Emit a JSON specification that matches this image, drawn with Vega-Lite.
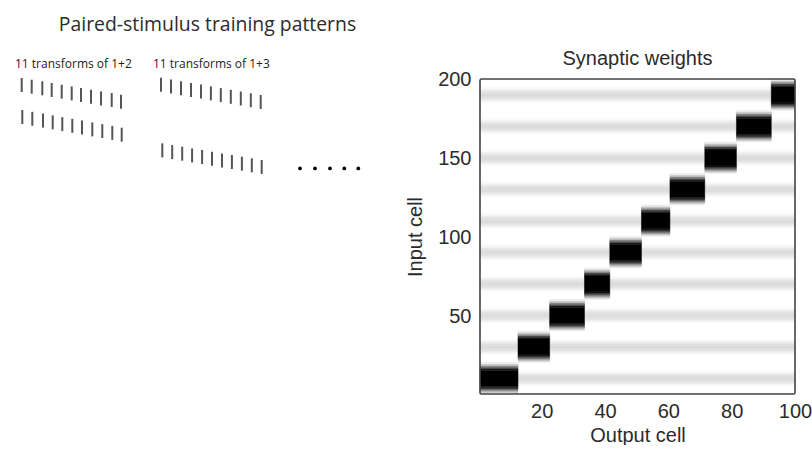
{
  "$schema": "https://vega.github.io/schema/vega-lite/v6.json",
  "background": "white",
  "padding": {"left": 0, "top": 14, "right": 0, "bottom": 0},
  "spacing": 20,
  "config": {
    "view": {"stroke": null},
    "axis": {"labelFont": "Liberation Sans", "titleFont": "Liberation Sans", "labelColor": "#2b2b2b", "titleColor": "#2b2b2b", "titleFontWeight": "normal"}
  },
  "datasets": {
    "ticks": [
      {"pair": "1+2", "stim": 1, "t": 0, "x": 21.7, "y": 6.0}, {"pair": "1+2", "stim": 1, "t": 1, "x": 31.7, "y": 7.7},
      {"pair": "1+2", "stim": 1, "t": 2, "x": 42.3, "y": 9.3}, {"pair": "1+2", "stim": 1, "t": 3, "x": 51.7, "y": 11.0},
      {"pair": "1+2", "stim": 1, "t": 4, "x": 61.7, "y": 12.7}, {"pair": "1+2", "stim": 1, "t": 5, "x": 71.7, "y": 14.4},
      {"pair": "1+2", "stim": 1, "t": 6, "x": 81.0, "y": 16.0}, {"pair": "1+2", "stim": 1, "t": 7, "x": 91.0, "y": 17.7},
      {"pair": "1+2", "stim": 1, "t": 8, "x": 101.0, "y": 19.4}, {"pair": "1+2", "stim": 1, "t": 9, "x": 111.7, "y": 21.0},
      {"pair": "1+2", "stim": 1, "t": 10, "x": 121.0, "y": 22.7},
      {"pair": "1+2", "stim": 2, "t": 0, "x": 22.3, "y": 38.0}, {"pair": "1+2", "stim": 2, "t": 1, "x": 32.3, "y": 39.8},
      {"pair": "1+2", "stim": 2, "t": 2, "x": 43.0, "y": 41.5}, {"pair": "1+2", "stim": 2, "t": 3, "x": 52.7, "y": 43.3},
      {"pair": "1+2", "stim": 2, "t": 4, "x": 62.3, "y": 45.1}, {"pair": "1+2", "stim": 2, "t": 5, "x": 72.3, "y": 46.8},
      {"pair": "1+2", "stim": 2, "t": 6, "x": 82.0, "y": 48.6}, {"pair": "1+2", "stim": 2, "t": 7, "x": 92.3, "y": 50.4},
      {"pair": "1+2", "stim": 2, "t": 8, "x": 102.3, "y": 52.1}, {"pair": "1+2", "stim": 2, "t": 9, "x": 112.3, "y": 53.9},
      {"pair": "1+2", "stim": 2, "t": 10, "x": 121.7, "y": 55.7},
      {"pair": "1+3", "stim": 1, "t": 0, "x": 161.0, "y": 5.7}, {"pair": "1+3", "stim": 1, "t": 1, "x": 171.0, "y": 7.4},
      {"pair": "1+3", "stim": 1, "t": 2, "x": 181.0, "y": 9.2}, {"pair": "1+3", "stim": 1, "t": 3, "x": 191.0, "y": 10.9},
      {"pair": "1+3", "stim": 1, "t": 4, "x": 201.0, "y": 12.6}, {"pair": "1+3", "stim": 1, "t": 5, "x": 210.9, "y": 14.4},
      {"pair": "1+3", "stim": 1, "t": 6, "x": 220.8, "y": 16.1}, {"pair": "1+3", "stim": 1, "t": 7, "x": 230.8, "y": 17.8},
      {"pair": "1+3", "stim": 1, "t": 8, "x": 240.8, "y": 19.5}, {"pair": "1+3", "stim": 1, "t": 9, "x": 250.8, "y": 21.3},
      {"pair": "1+3", "stim": 1, "t": 10, "x": 260.7, "y": 23.0},
      {"pair": "1+3", "stim": 3, "t": 0, "x": 162.3, "y": 71.4}, {"pair": "1+3", "stim": 3, "t": 1, "x": 172.2, "y": 73.1},
      {"pair": "1+3", "stim": 3, "t": 2, "x": 182.2, "y": 74.7}, {"pair": "1+3", "stim": 3, "t": 3, "x": 192.1, "y": 76.4},
      {"pair": "1+3", "stim": 3, "t": 4, "x": 202.1, "y": 78.0}, {"pair": "1+3", "stim": 3, "t": 5, "x": 212.0, "y": 79.7},
      {"pair": "1+3", "stim": 3, "t": 6, "x": 222.0, "y": 81.4}, {"pair": "1+3", "stim": 3, "t": 7, "x": 231.9, "y": 83.0},
      {"pair": "1+3", "stim": 3, "t": 8, "x": 241.9, "y": 84.7}, {"pair": "1+3", "stim": 3, "t": 9, "x": 251.8, "y": 86.3},
      {"pair": "1+3", "stim": 3, "t": 10, "x": 261.7, "y": 88.0}
    ],
    "dots": [
      {"x": 300.0, "y": 89.4}, {"x": 315.0, "y": 89.4}, {"x": 330.0, "y": 89.4}, {"x": 344.3, "y": 89.4}, {"x": 358.3, "y": 89.4}
    ],
    "labels": [
      {"text": "11 transforms of 1+2", "x": 15, "y": -15.3},
      {"text": "11 transforms of 1+3", "x": 153, "y": -15.3}
    ],
    "heading": [
      {"text": "Paired-stimulus training patterns", "x": 207.5, "y": -54.3}
    ],
    "frame": [
      {"o0": 0.5, "o1": 100, "i0": 0.5, "i1": 200.5}
    ],
    "stripes": [
      {"i0": 5.5, "i1": 6.5, "w": 0.02}, {"i0": 6.5, "i1": 7.5, "w": 0.05}, {"i0": 7.5, "i1": 8.5, "w": 0.09}, {"i0": 8.5, "i1": 9.5, "w": 0.12}, {"i0": 9.5, "i1": 10.5, "w": 0.14},
      {"i0": 10.5, "i1": 11.5, "w": 0.14}, {"i0": 11.5, "i1": 12.5, "w": 0.12}, {"i0": 12.5, "i1": 13.5, "w": 0.09}, {"i0": 13.5, "i1": 14.5, "w": 0.05}, {"i0": 14.5, "i1": 15.5, "w": 0.02},
      {"i0": 25.5, "i1": 26.5, "w": 0.02}, {"i0": 26.5, "i1": 27.5, "w": 0.05}, {"i0": 27.5, "i1": 28.5, "w": 0.09}, {"i0": 28.5, "i1": 29.5, "w": 0.12}, {"i0": 29.5, "i1": 30.5, "w": 0.14},
      {"i0": 30.5, "i1": 31.5, "w": 0.14}, {"i0": 31.5, "i1": 32.5, "w": 0.12}, {"i0": 32.5, "i1": 33.5, "w": 0.09}, {"i0": 33.5, "i1": 34.5, "w": 0.05}, {"i0": 34.5, "i1": 35.5, "w": 0.02},
      {"i0": 45.5, "i1": 46.5, "w": 0.02}, {"i0": 46.5, "i1": 47.5, "w": 0.05}, {"i0": 47.5, "i1": 48.5, "w": 0.09}, {"i0": 48.5, "i1": 49.5, "w": 0.12}, {"i0": 49.5, "i1": 50.5, "w": 0.14},
      {"i0": 50.5, "i1": 51.5, "w": 0.14}, {"i0": 51.5, "i1": 52.5, "w": 0.12}, {"i0": 52.5, "i1": 53.5, "w": 0.09}, {"i0": 53.5, "i1": 54.5, "w": 0.05}, {"i0": 54.5, "i1": 55.5, "w": 0.02},
      {"i0": 65.5, "i1": 66.5, "w": 0.02}, {"i0": 66.5, "i1": 67.5, "w": 0.05}, {"i0": 67.5, "i1": 68.5, "w": 0.09}, {"i0": 68.5, "i1": 69.5, "w": 0.12}, {"i0": 69.5, "i1": 70.5, "w": 0.14},
      {"i0": 70.5, "i1": 71.5, "w": 0.14}, {"i0": 71.5, "i1": 72.5, "w": 0.12}, {"i0": 72.5, "i1": 73.5, "w": 0.09}, {"i0": 73.5, "i1": 74.5, "w": 0.05}, {"i0": 74.5, "i1": 75.5, "w": 0.02},
      {"i0": 85.5, "i1": 86.5, "w": 0.02}, {"i0": 86.5, "i1": 87.5, "w": 0.05}, {"i0": 87.5, "i1": 88.5, "w": 0.09}, {"i0": 88.5, "i1": 89.5, "w": 0.12}, {"i0": 89.5, "i1": 90.5, "w": 0.14},
      {"i0": 90.5, "i1": 91.5, "w": 0.14}, {"i0": 91.5, "i1": 92.5, "w": 0.12}, {"i0": 92.5, "i1": 93.5, "w": 0.09}, {"i0": 93.5, "i1": 94.5, "w": 0.05}, {"i0": 94.5, "i1": 95.5, "w": 0.02},
      {"i0": 105.5, "i1": 106.5, "w": 0.02}, {"i0": 106.5, "i1": 107.5, "w": 0.05}, {"i0": 107.5, "i1": 108.5, "w": 0.09}, {"i0": 108.5, "i1": 109.5, "w": 0.12}, {"i0": 109.5, "i1": 110.5, "w": 0.14},
      {"i0": 110.5, "i1": 111.5, "w": 0.14}, {"i0": 111.5, "i1": 112.5, "w": 0.12}, {"i0": 112.5, "i1": 113.5, "w": 0.09}, {"i0": 113.5, "i1": 114.5, "w": 0.05}, {"i0": 114.5, "i1": 115.5, "w": 0.02},
      {"i0": 125.5, "i1": 126.5, "w": 0.02}, {"i0": 126.5, "i1": 127.5, "w": 0.05}, {"i0": 127.5, "i1": 128.5, "w": 0.09}, {"i0": 128.5, "i1": 129.5, "w": 0.12}, {"i0": 129.5, "i1": 130.5, "w": 0.14},
      {"i0": 130.5, "i1": 131.5, "w": 0.14}, {"i0": 131.5, "i1": 132.5, "w": 0.12}, {"i0": 132.5, "i1": 133.5, "w": 0.09}, {"i0": 133.5, "i1": 134.5, "w": 0.05}, {"i0": 134.5, "i1": 135.5, "w": 0.02},
      {"i0": 145.5, "i1": 146.5, "w": 0.02}, {"i0": 146.5, "i1": 147.5, "w": 0.05}, {"i0": 147.5, "i1": 148.5, "w": 0.09}, {"i0": 148.5, "i1": 149.5, "w": 0.12}, {"i0": 149.5, "i1": 150.5, "w": 0.14},
      {"i0": 150.5, "i1": 151.5, "w": 0.14}, {"i0": 151.5, "i1": 152.5, "w": 0.12}, {"i0": 152.5, "i1": 153.5, "w": 0.09}, {"i0": 153.5, "i1": 154.5, "w": 0.05}, {"i0": 154.5, "i1": 155.5, "w": 0.02},
      {"i0": 165.5, "i1": 166.5, "w": 0.02}, {"i0": 166.5, "i1": 167.5, "w": 0.05}, {"i0": 167.5, "i1": 168.5, "w": 0.09}, {"i0": 168.5, "i1": 169.5, "w": 0.12}, {"i0": 169.5, "i1": 170.5, "w": 0.14},
      {"i0": 170.5, "i1": 171.5, "w": 0.14}, {"i0": 171.5, "i1": 172.5, "w": 0.12}, {"i0": 172.5, "i1": 173.5, "w": 0.09}, {"i0": 173.5, "i1": 174.5, "w": 0.05}, {"i0": 174.5, "i1": 175.5, "w": 0.02},
      {"i0": 185.5, "i1": 186.5, "w": 0.02}, {"i0": 186.5, "i1": 187.5, "w": 0.05}, {"i0": 187.5, "i1": 188.5, "w": 0.09}, {"i0": 188.5, "i1": 189.5, "w": 0.12}, {"i0": 189.5, "i1": 190.5, "w": 0.14},
      {"i0": 190.5, "i1": 191.5, "w": 0.14}, {"i0": 191.5, "i1": 192.5, "w": 0.12}, {"i0": 192.5, "i1": 193.5, "w": 0.09}, {"i0": 193.5, "i1": 194.5, "w": 0.05}, {"i0": 194.5, "i1": 195.5, "w": 0.02}
    ],
    "blocks": [
      {"o0": 0.5, "o1": 12.5, "i0": 0.5, "i1": 1.5, "w": 0.08}, {"o0": 0.5, "o1": 12.5, "i0": 1.5, "i1": 2.5, "w": 0.25}, {"o0": 0.5, "o1": 12.5, "i0": 2.5, "i1": 3.5, "w": 0.5}, {"o0": 0.5, "o1": 12.5, "i0": 3.5, "i1": 4.5, "w": 0.75}, {"o0": 0.5, "o1": 12.5, "i0": 4.5, "i1": 5.5, "w": 0.92}, {"o0": 0.5, "o1": 12.5, "i0": 5.5, "i1": 15.5, "w": 1}, {"o0": 0.5, "o1": 12.5, "i0": 15.5, "i1": 16.5, "w": 0.92}, {"o0": 0.5, "o1": 12.5, "i0": 16.5, "i1": 17.5, "w": 0.75}, {"o0": 0.5, "o1": 12.5, "i0": 17.5, "i1": 18.5, "w": 0.5}, {"o0": 0.5, "o1": 12.5, "i0": 18.5, "i1": 19.5, "w": 0.25}, {"o0": 0.5, "o1": 12.5, "i0": 19.5, "i1": 20.5, "w": 0.08},
      {"o0": 12.5, "o1": 22.5, "i0": 20.5, "i1": 21.5, "w": 0.08}, {"o0": 12.5, "o1": 22.5, "i0": 21.5, "i1": 22.5, "w": 0.25}, {"o0": 12.5, "o1": 22.5, "i0": 22.5, "i1": 23.5, "w": 0.5}, {"o0": 12.5, "o1": 22.5, "i0": 23.5, "i1": 24.5, "w": 0.75}, {"o0": 12.5, "o1": 22.5, "i0": 24.5, "i1": 25.5, "w": 0.92}, {"o0": 12.5, "o1": 22.5, "i0": 25.5, "i1": 35.5, "w": 1}, {"o0": 12.5, "o1": 22.5, "i0": 35.5, "i1": 36.5, "w": 0.92}, {"o0": 12.5, "o1": 22.5, "i0": 36.5, "i1": 37.5, "w": 0.75}, {"o0": 12.5, "o1": 22.5, "i0": 37.5, "i1": 38.5, "w": 0.5}, {"o0": 12.5, "o1": 22.5, "i0": 38.5, "i1": 39.5, "w": 0.25}, {"o0": 12.5, "o1": 22.5, "i0": 39.5, "i1": 40.5, "w": 0.08},
      {"o0": 22.5, "o1": 33.5, "i0": 40.5, "i1": 41.5, "w": 0.08}, {"o0": 22.5, "o1": 33.5, "i0": 41.5, "i1": 42.5, "w": 0.25}, {"o0": 22.5, "o1": 33.5, "i0": 42.5, "i1": 43.5, "w": 0.5}, {"o0": 22.5, "o1": 33.5, "i0": 43.5, "i1": 44.5, "w": 0.75}, {"o0": 22.5, "o1": 33.5, "i0": 44.5, "i1": 45.5, "w": 0.92}, {"o0": 22.5, "o1": 33.5, "i0": 45.5, "i1": 55.5, "w": 1}, {"o0": 22.5, "o1": 33.5, "i0": 55.5, "i1": 56.5, "w": 0.92}, {"o0": 22.5, "o1": 33.5, "i0": 56.5, "i1": 57.5, "w": 0.75}, {"o0": 22.5, "o1": 33.5, "i0": 57.5, "i1": 58.5, "w": 0.5}, {"o0": 22.5, "o1": 33.5, "i0": 58.5, "i1": 59.5, "w": 0.25}, {"o0": 22.5, "o1": 33.5, "i0": 59.5, "i1": 60.5, "w": 0.08},
      {"o0": 33.5, "o1": 41.5, "i0": 60.5, "i1": 61.5, "w": 0.08}, {"o0": 33.5, "o1": 41.5, "i0": 61.5, "i1": 62.5, "w": 0.25}, {"o0": 33.5, "o1": 41.5, "i0": 62.5, "i1": 63.5, "w": 0.5}, {"o0": 33.5, "o1": 41.5, "i0": 63.5, "i1": 64.5, "w": 0.75}, {"o0": 33.5, "o1": 41.5, "i0": 64.5, "i1": 65.5, "w": 0.92}, {"o0": 33.5, "o1": 41.5, "i0": 65.5, "i1": 75.5, "w": 1}, {"o0": 33.5, "o1": 41.5, "i0": 75.5, "i1": 76.5, "w": 0.92}, {"o0": 33.5, "o1": 41.5, "i0": 76.5, "i1": 77.5, "w": 0.75}, {"o0": 33.5, "o1": 41.5, "i0": 77.5, "i1": 78.5, "w": 0.5}, {"o0": 33.5, "o1": 41.5, "i0": 78.5, "i1": 79.5, "w": 0.25}, {"o0": 33.5, "o1": 41.5, "i0": 79.5, "i1": 80.5, "w": 0.08},
      {"o0": 41.5, "o1": 51.5, "i0": 80.5, "i1": 81.5, "w": 0.08}, {"o0": 41.5, "o1": 51.5, "i0": 81.5, "i1": 82.5, "w": 0.25}, {"o0": 41.5, "o1": 51.5, "i0": 82.5, "i1": 83.5, "w": 0.5}, {"o0": 41.5, "o1": 51.5, "i0": 83.5, "i1": 84.5, "w": 0.75}, {"o0": 41.5, "o1": 51.5, "i0": 84.5, "i1": 85.5, "w": 0.92}, {"o0": 41.5, "o1": 51.5, "i0": 85.5, "i1": 95.5, "w": 1}, {"o0": 41.5, "o1": 51.5, "i0": 95.5, "i1": 96.5, "w": 0.92}, {"o0": 41.5, "o1": 51.5, "i0": 96.5, "i1": 97.5, "w": 0.75}, {"o0": 41.5, "o1": 51.5, "i0": 97.5, "i1": 98.5, "w": 0.5}, {"o0": 41.5, "o1": 51.5, "i0": 98.5, "i1": 99.5, "w": 0.25}, {"o0": 41.5, "o1": 51.5, "i0": 99.5, "i1": 100.5, "w": 0.08},
      {"o0": 51.5, "o1": 60.5, "i0": 100.5, "i1": 101.5, "w": 0.08}, {"o0": 51.5, "o1": 60.5, "i0": 101.5, "i1": 102.5, "w": 0.25}, {"o0": 51.5, "o1": 60.5, "i0": 102.5, "i1": 103.5, "w": 0.5}, {"o0": 51.5, "o1": 60.5, "i0": 103.5, "i1": 104.5, "w": 0.75}, {"o0": 51.5, "o1": 60.5, "i0": 104.5, "i1": 105.5, "w": 0.92}, {"o0": 51.5, "o1": 60.5, "i0": 105.5, "i1": 115.5, "w": 1}, {"o0": 51.5, "o1": 60.5, "i0": 115.5, "i1": 116.5, "w": 0.92}, {"o0": 51.5, "o1": 60.5, "i0": 116.5, "i1": 117.5, "w": 0.75}, {"o0": 51.5, "o1": 60.5, "i0": 117.5, "i1": 118.5, "w": 0.5}, {"o0": 51.5, "o1": 60.5, "i0": 118.5, "i1": 119.5, "w": 0.25}, {"o0": 51.5, "o1": 60.5, "i0": 119.5, "i1": 120.5, "w": 0.08},
      {"o0": 60.5, "o1": 71.5, "i0": 120.5, "i1": 121.5, "w": 0.08}, {"o0": 60.5, "o1": 71.5, "i0": 121.5, "i1": 122.5, "w": 0.25}, {"o0": 60.5, "o1": 71.5, "i0": 122.5, "i1": 123.5, "w": 0.5}, {"o0": 60.5, "o1": 71.5, "i0": 123.5, "i1": 124.5, "w": 0.75}, {"o0": 60.5, "o1": 71.5, "i0": 124.5, "i1": 125.5, "w": 0.92}, {"o0": 60.5, "o1": 71.5, "i0": 125.5, "i1": 135.5, "w": 1}, {"o0": 60.5, "o1": 71.5, "i0": 135.5, "i1": 136.5, "w": 0.92}, {"o0": 60.5, "o1": 71.5, "i0": 136.5, "i1": 137.5, "w": 0.75}, {"o0": 60.5, "o1": 71.5, "i0": 137.5, "i1": 138.5, "w": 0.5}, {"o0": 60.5, "o1": 71.5, "i0": 138.5, "i1": 139.5, "w": 0.25}, {"o0": 60.5, "o1": 71.5, "i0": 139.5, "i1": 140.5, "w": 0.08},
      {"o0": 71.5, "o1": 81.5, "i0": 140.5, "i1": 141.5, "w": 0.08}, {"o0": 71.5, "o1": 81.5, "i0": 141.5, "i1": 142.5, "w": 0.25}, {"o0": 71.5, "o1": 81.5, "i0": 142.5, "i1": 143.5, "w": 0.5}, {"o0": 71.5, "o1": 81.5, "i0": 143.5, "i1": 144.5, "w": 0.75}, {"o0": 71.5, "o1": 81.5, "i0": 144.5, "i1": 145.5, "w": 0.92}, {"o0": 71.5, "o1": 81.5, "i0": 145.5, "i1": 155.5, "w": 1}, {"o0": 71.5, "o1": 81.5, "i0": 155.5, "i1": 156.5, "w": 0.92}, {"o0": 71.5, "o1": 81.5, "i0": 156.5, "i1": 157.5, "w": 0.75}, {"o0": 71.5, "o1": 81.5, "i0": 157.5, "i1": 158.5, "w": 0.5}, {"o0": 71.5, "o1": 81.5, "i0": 158.5, "i1": 159.5, "w": 0.25}, {"o0": 71.5, "o1": 81.5, "i0": 159.5, "i1": 160.5, "w": 0.08},
      {"o0": 81.5, "o1": 92.5, "i0": 160.5, "i1": 161.5, "w": 0.08}, {"o0": 81.5, "o1": 92.5, "i0": 161.5, "i1": 162.5, "w": 0.25}, {"o0": 81.5, "o1": 92.5, "i0": 162.5, "i1": 163.5, "w": 0.5}, {"o0": 81.5, "o1": 92.5, "i0": 163.5, "i1": 164.5, "w": 0.75}, {"o0": 81.5, "o1": 92.5, "i0": 164.5, "i1": 165.5, "w": 0.92}, {"o0": 81.5, "o1": 92.5, "i0": 165.5, "i1": 175.5, "w": 1}, {"o0": 81.5, "o1": 92.5, "i0": 175.5, "i1": 176.5, "w": 0.92}, {"o0": 81.5, "o1": 92.5, "i0": 176.5, "i1": 177.5, "w": 0.75}, {"o0": 81.5, "o1": 92.5, "i0": 177.5, "i1": 178.5, "w": 0.5}, {"o0": 81.5, "o1": 92.5, "i0": 178.5, "i1": 179.5, "w": 0.25}, {"o0": 81.5, "o1": 92.5, "i0": 179.5, "i1": 180.5, "w": 0.08},
      {"o0": 92.5, "o1": 100, "i0": 180.5, "i1": 181.5, "w": 0.08}, {"o0": 92.5, "o1": 100, "i0": 181.5, "i1": 182.5, "w": 0.25}, {"o0": 92.5, "o1": 100, "i0": 182.5, "i1": 183.5, "w": 0.5}, {"o0": 92.5, "o1": 100, "i0": 183.5, "i1": 184.5, "w": 0.75}, {"o0": 92.5, "o1": 100, "i0": 184.5, "i1": 185.5, "w": 0.92}, {"o0": 92.5, "o1": 100, "i0": 185.5, "i1": 195.5, "w": 1}, {"o0": 92.5, "o1": 100, "i0": 195.5, "i1": 196.5, "w": 0.92}, {"o0": 92.5, "o1": 100, "i0": 196.5, "i1": 197.5, "w": 0.75}, {"o0": 92.5, "o1": 100, "i0": 197.5, "i1": 198.5, "w": 0.5}, {"o0": 92.5, "o1": 100, "i0": 198.5, "i1": 199.5, "w": 0.25}, {"o0": 92.5, "o1": 100, "i0": 199.5, "i1": 200.5, "w": 0.08}
    ]
  },
  "hconcat": [
    {
      "width": 385,
      "height": 315,
      "layer": [
        {
          "data": {"name": "ticks"},
          "mark": {"type": "tick", "orient": "vertical", "size": 14, "thickness": 2, "color": "#555555", "opacity": 1},
          "encoding": {
            "x": {"field": "x", "type": "quantitative", "scale": {"domain": [0, 385], "nice": false, "zero": false}, "axis": null},
            "y": {"field": "y", "type": "quantitative", "scale": {"domain": [0, 315], "nice": false, "zero": false, "reverse": true}, "axis": null}
          }
        },
        {
          "data": {"name": "dots"},
          "mark": {"type": "circle", "size": 14, "color": "#000000", "opacity": 1},
          "encoding": {
            "x": {"field": "x", "type": "quantitative"},
            "y": {"field": "y", "type": "quantitative"}
          }
        },
        {
          "data": {"name": "labels"},
          "mark": {"type": "text", "font": "Open Sans", "fontSize": 12, "align": "left", "baseline": "middle", "color": "#222222"},
          "encoding": {
            "x": {"field": "x", "type": "quantitative"},
            "y": {"field": "y", "type": "quantitative"},
            "text": {"field": "text", "type": "nominal"}
          }
        },
        {
          "data": {"name": "heading"},
          "mark": {"type": "text", "font": "Open Sans", "fontSize": 19.4, "align": "center", "baseline": "middle", "color": "#2b2b2b"},
          "encoding": {
            "x": {"field": "x", "type": "quantitative"},
            "y": {"field": "y", "type": "quantitative"},
            "text": {"field": "text", "type": "nominal"}
          }
        }
      ]
    },
    {
      "width": 315,
      "height": 315,
      "title": {"text": "Synaptic weights", "fontSize": 20, "fontWeight": "normal", "font": "Liberation Sans", "color": "#2b2b2b", "offset": 1},
      "layer": [
        {
          "data": {"name": "stripes"},
          "mark": {"type": "rect", "strokeWidth": 0.5},
          "encoding": {
            "x": {"datum": 0.5, "type": "quantitative", "scale": {"domain": [0.5, 100], "nice": false, "zero": false},
              "axis": {"values": [20, 40, 60, 80, 100], "ticks": false, "tickSize": 0, "domain": false, "grid": false, "labelFontSize": 20, "labelPadding": 7, "labelFlush": false, "labelOverlap": false, "title": "Output cell", "titleFontSize": 20, "titlePadding": 4}},
            "x2": {"datum": 100},
            "y": {"field": "i0", "type": "quantitative", "scale": {"domain": [0.5, 200.5], "nice": false, "zero": false},
              "axis": {"values": [50, 100, 150, 200], "ticks": false, "tickSize": 0, "domain": false, "grid": false, "labelFontSize": 20, "labelPadding": 9, "labelFlush": false, "labelOverlap": false, "title": "Input cell", "titleFontSize": 20, "titlePadding": 12}},
            "y2": {"field": "i1"},
            "color": {"field": "w", "type": "quantitative", "scale": {"domain": [0, 1], "range": ["#ffffff", "#000000"], "interpolate": "rgb"}, "legend": null},
            "stroke": {"field": "w", "type": "quantitative", "scale": {"domain": [0, 1], "range": ["#ffffff", "#000000"], "interpolate": "rgb"}, "legend": null}
          }
        },
        {
          "data": {"name": "blocks"},
          "mark": {"type": "rect", "strokeWidth": 0.5},
          "encoding": {
            "x": {"field": "o0", "type": "quantitative"},
            "x2": {"field": "o1"},
            "y": {"field": "i0", "type": "quantitative"},
            "y2": {"field": "i1"},
            "color": {"field": "w", "type": "quantitative", "legend": null},
            "stroke": {"field": "w", "type": "quantitative", "legend": null}
          }
        },
        {
          "data": {"name": "frame"},
          "mark": {"type": "rect", "filled": false, "fill": null, "stroke": "#444444", "strokeWidth": 1.6, "cornerRadius": 1.5},
          "encoding": {
            "x": {"field": "o0", "type": "quantitative"},
            "x2": {"field": "o1"},
            "y": {"field": "i0", "type": "quantitative"},
            "y2": {"field": "i1"}
          }
        }
      ]
    }
  ]
}
